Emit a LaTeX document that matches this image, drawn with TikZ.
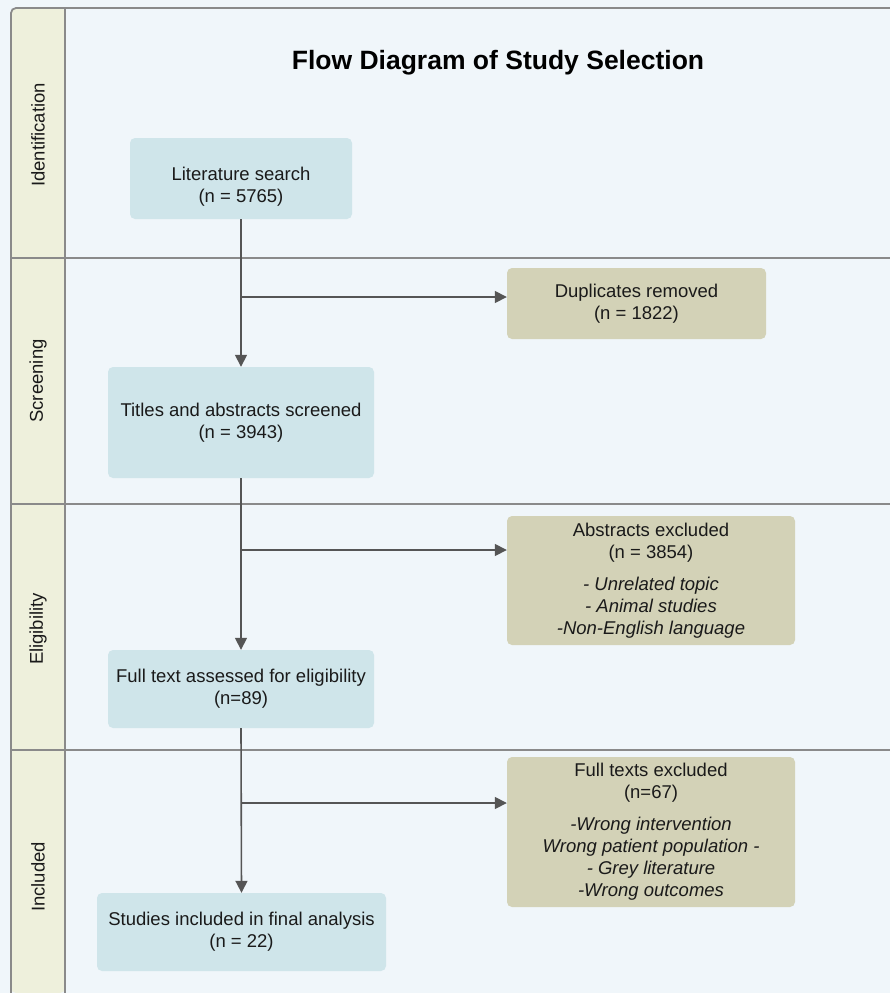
\documentclass[tikz,border=0pt]{standalone}
\usepackage{fontspec}
\setmainfont{Liberation Sans}
\usetikzlibrary{arrows.meta}
\definecolor{lanebg}{HTML}{EEF0DC}
\definecolor{mainbg}{HTML}{F0F6FA}
\definecolor{bluebox}{HTML}{CFE5EA}
\definecolor{tanbox}{HTML}{D3D2B7}
\definecolor{linecol}{HTML}{555555}
\definecolor{bordercol}{HTML}{8A8A8A}
\definecolor{txt}{HTML}{1A1A1A}
\begin{document}
\begin{tikzpicture}[x=1pt,y=-1pt,
  boxtext/.style={font=\fontsize{18.5}{22}\selectfont, text=txt, align=center, inner sep=0pt},
  bluenode/.style={boxtext, fill=bluebox, rounded corners=5pt},
  tannode/.style={boxtext, fill=tanbox, rounded corners=5pt},
  lanelabel/.style={font=\fontsize{18.5}{22}\selectfont, text=txt, rotate=90, inner sep=0pt},
  flow/.style={draw=linecol, line width=1.6pt, -{Triangle[length=12pt,width=12pt]}},
  sep/.style={draw=bordercol, line width=1.8pt}
]
\useasboundingbox (0,0) rectangle (890,993);
% backgrounds
\fill[mainbg] (0,0) rectangle (890,993);
\fill[lanebg, rounded corners=5pt] (11,993) -- (11,8) -- (65,8) -- (65,993) -- cycle;
% frame lines
\draw[sep, rounded corners=5pt] (11,993) -- (11,8) -- (890,8);
\draw[sep] (65,8) -- (65,993);
\draw[sep] (11,258) -- (890,258);
\draw[sep] (11,504) -- (890,504);
\draw[sep] (11,750) -- (890,750);

% lane labels
\node[lanelabel] (l1) at (38,135) {Identification};
\node[lanelabel] (l2) at (38,381) {Screening};
\node[lanelabel] (l3) at (38,629) {Eligibility};
\node[lanelabel] (l4) at (38,877) {Included};

% title
\node[font=\bfseries\fontsize{26.5}{30}\selectfont, text=black, inner sep=0pt] (title) at (498,63) {Flow Diagram of Study Selection};

% boxes
\node[bluenode, minimum width=222pt, minimum height=81pt] (lit) at (241,178.5) {\rule{0pt}{30pt}Literature search\\(n = 5765)};
\node[tannode, minimum width=259pt, minimum height=71pt] (dup) at (636.5,303.5) {Duplicates removed\\(n = 1822)};
\node[bluenode, minimum width=266pt, minimum height=111pt] (titles) at (241,422.5) {Titles and abstracts screened\\(n = 3943)};
\node[tannode, minimum width=288pt, minimum height=129pt] (abs) at (651,580.5) {Abstracts excluded\\(n = 3854)\\[10pt]\itshape - Unrelated topic\\\itshape - Animal studies\\\itshape -Non-English language};
\node[bluenode, minimum width=266pt, minimum height=78pt] (full) at (241,689) {Full text assessed for eligibility\\(n=89)};
\node[tannode, minimum width=288pt, minimum height=150pt] (ftex) at (651,832) {Full texts excluded\\(n=67)\\[10pt]\itshape -Wrong intervention\\\itshape Wrong patient population -\\\itshape - Grey literature\\\itshape -Wrong outcomes};
\node[bluenode, minimum width=289pt, minimum height=78pt] (incl) at (241.5,932) {Studies included in final analysis\\(n = 22)};

% connectors
\coordinate (b1) at (241,297);
\coordinate (b2) at (241,550);
\coordinate (b3) at (241,803);
\draw[flow] (lit.south) -- (titles.north);
\draw[flow] (b1) -- (b1 -| dup.west);
\draw[flow] (titles.south) -- (full.north);
\draw[flow] (b2) -- (b2 -| abs.west);
\draw[flow] (full.south) -- (incl.north);
\draw[flow] (b3) -- (b3 -| ftex.west);
\end{tikzpicture}
\end{document}
